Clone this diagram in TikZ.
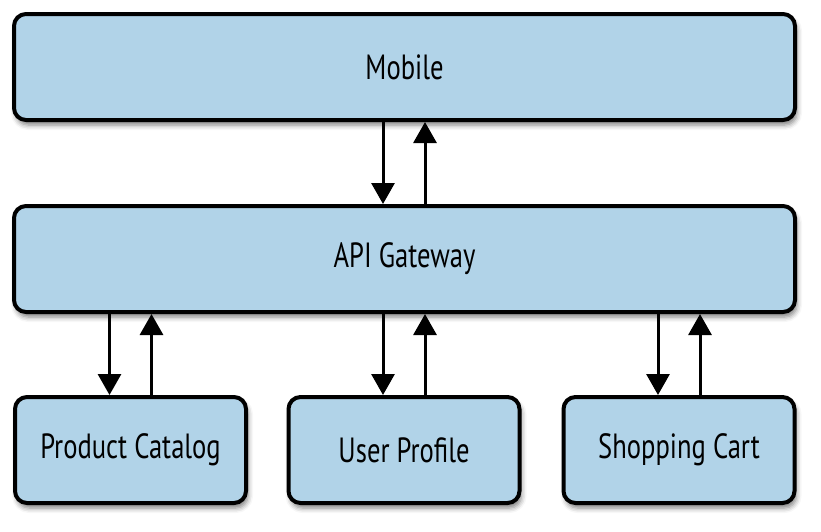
\documentclass[tikz,border=0pt]{standalone}
\usepackage{fontspec}
\setmainfont{PT Sans}[FakeStretch=0.76]
\usetikzlibrary{arrows.meta,shadows.blur}
\definecolor{boxblue}{RGB}{177,211,232}
\tikzset{
  box/.style={draw=black, line width=4pt, fill=boxblue, rounded corners=12pt,
    inner sep=0pt, minimum height=106pt,
    blur shadow={shadow xshift=2pt, shadow yshift=-5pt, shadow blur radius=5pt, shadow opacity=50},
    font=\fontsize{35}{40}\selectfont},
  wide/.style={box, minimum width=781pt},
  small/.style={box, minimum width=231pt},
  arr/.style={line width=3pt, -{Triangle[length=21pt, width=23pt]}}
}
\begin{document}
\begin{tikzpicture}[x=1pt,y=-1pt]
\useasboundingbox (0,0) rectangle (821,531);
\node[wide] (m) at (404.5,67) {Mobile};
\node[wide] (g) at (404.5,259) {API Gateway};
\node[small] (p) at (130.5,450) {Product Catalog};
\node[small] (u) at (404,450) {User Profile};
\node[small] (s) at (679,450) {Shopping Cart};
\draw[arr] ([xshift=-21.5pt]m.south) -- ([xshift=-21.5pt]m.south |- g.north);
\draw[arr] ([xshift=20.5pt]m.south |- g.north) -- ([xshift=20.5pt]m.south);
\foreach \b in {p,u,s}{
  \draw[arr] ([xshift=-21pt]\b.north |- g.south) -- ([xshift=-21pt]\b.north);
  \draw[arr] ([xshift=21pt]\b.north) -- ([xshift=21pt]\b.north |- g.south);
}
\end{tikzpicture}
\end{document}
